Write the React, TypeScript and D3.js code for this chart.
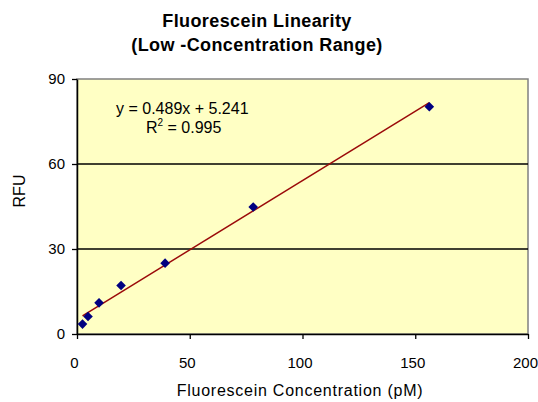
import * as d3 from 'd3';
import { useEffect, useRef } from 'react';

const concentrations = [2.44, 4.88, 9.77, 19.53, 39.06, 78.13, 156.25];
const rfu = [3.5, 6.2, 11.0, 17.1, 25.0, 44.8, 80.2];
const xTicks = [0, 50, 100, 150, 200];
const yTicks = [0, 30, 60, 90];
const slope = 0.489;
const intercept = 5.241;

const FONT = "'Liberation Sans', Arial, sans-serif";

export default function App() {
    const ref = useRef<SVGSVGElement | null>(null);

    useEffect(() => {
        if (!ref.current) return;
        const svg = d3.select(ref.current);
        svg.selectAll("*").remove();

        const left = 77, right = 528, top = 79, bottom = 334;

        const x = d3.scaleLinear().domain([0, 200]).range([left, right]);
        const y = d3.scaleLinear().domain([0, 90]).range([bottom, top]);

        // plot background
        svg.append("rect")
            .attr("x", left).attr("y", top)
            .attr("width", right - left).attr("height", bottom - top)
            .attr("fill", "#ffffc4")
            .attr("stroke", "#808080")
            .attr("stroke-width", 1.5);

        // gridlines
        svg.append("g")
            .selectAll("line")
            .data(yTicks.filter(t => t > 0 && t < 90))
            .join("line")
            .attr("x1", left).attr("x2", right)
            .attr("y1", d => y(d)).attr("y2", d => y(d))
            .attr("stroke", "#000")
            .attr("stroke-width", 1.3);

        // axes
        const xAxis = svg.append("g")
            .attr("transform", `translate(0,${bottom})`)
            .call(d3.axisBottom(x).tickValues(xTicks).tickSize(5).tickPadding(18).tickSizeOuter(0));
        xAxis.selectAll(".tick text").attr("dx", -3); // excel nudges labels left a bit
        const yAxis = svg.append("g")
            .attr("transform", `translate(${left},0)`)
            .call(d3.axisLeft(y).tickValues(yTicks).tickSize(5).tickPadding(7).tickSizeOuter(0));
        [xAxis, yAxis].forEach(a => {
            a.select(".domain").attr("stroke", "#000").attr("stroke-width", 1.5);
            a.selectAll(".tick line").attr("stroke", "#000").attr("stroke-width", 1.3);
            a.selectAll(".tick text")
                .attr("fill", "#000")
                .style("font-family", FONT)
                .style("font-size", "15px");
        });

        // trendline
        const x0 = d3.min(concentrations) as number;
        const x1 = d3.max(concentrations) as number;
        svg.append("line")
            .attr("x1", x(x0)).attr("y1", y(slope * x0 + intercept))
            .attr("x2", x(x1)).attr("y2", y(slope * x1 + intercept))
            .attr("stroke", "#9b0a0a")
            .attr("stroke-width", 1.5);

        // markers (square rotated into a diamond)
        const sym = d3.symbol().type(d3.symbolSquare).size(46);
        svg.append("g")
            .selectAll("path")
            .data(concentrations)
            .join("path")
            .attr("transform", (d, i) => `translate(${x(d)},${y(rfu[i])}) rotate(45)`)
            .attr("d", sym() as string)
            .attr("fill", "#000080");

        // equation
        const eq = svg.append("g")
            .style("font-family", FONT)
            .style("font-size", "16px")
            .attr("fill", "#000");
        eq.append("text")
            .attr("x", 116).attr("y", 114)
            .text(`y = ${slope}x + ${intercept}`);
        const r2 = eq.append("text").attr("x", 146).attr("y", 133);
        r2.append("tspan").text("R");
        r2.append("tspan").attr("dy", -7).style("font-size", "10px").text("2");
        r2.append("tspan").attr("dy", 7).text(" = 0.995");

        // titles
        const title = svg.append("text")
            .attr("text-anchor", "middle")
            .style("font-family", FONT)
            .style("font-size", "18px")
            .style("font-weight", "bold")
            .style("letter-spacing", "0.4px")
            .attr("fill", "#000");
        title.append("tspan").attr("x", 257).attr("y", 27).text("Fluorescein Linearity");
        title.append("tspan").attr("x", 257).attr("y", 51).text("(Low -Concentration Range)");

        svg.append("text")
            .attr("x", 300).attr("y", 396)
            .attr("text-anchor", "middle")
            .style("font-family", FONT)
            .style("font-size", "16px")
            .style("letter-spacing", "0.75px")
            .text("Fluorescein Concentration (pM)");

        svg.append("text")
            .attr("transform", "translate(25,191) rotate(-90)")
            .attr("text-anchor", "middle")
            .style("font-family", FONT)
            .style("font-size", "16px")
            .text("RFU");
    }, []);

    return (
        <svg ref={ref} width={538} height={402}
            style={{ position: "absolute", left: 0, top: 0, background: "#fff" }} />
    );
}
